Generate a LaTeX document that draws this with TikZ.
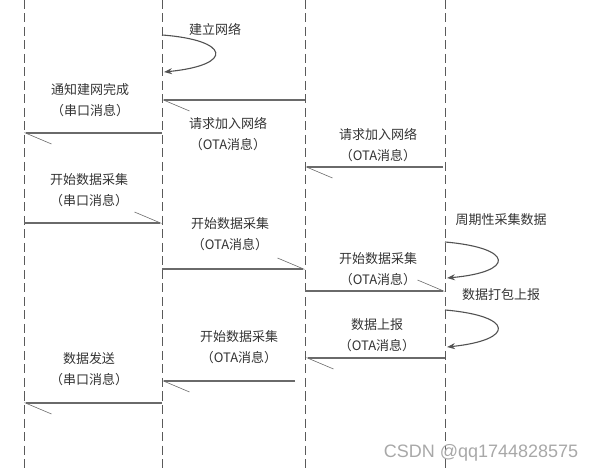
\documentclass[tikz,border=0pt]{standalone}
\usepackage{fontspec}
\newfontfamily\cjk{Noto Sans CJK SC}
\setsansfont{Liberation Sans}
\usetikzlibrary{arrows.meta}
\definecolor{lifec}{HTML}{5A5A5A}
\definecolor{msgc}{HTML}{6A6A6A}
\definecolor{txtc}{HTML}{333333}
\definecolor{wmc}{HTML}{A8A8A8}
\tikzset{
  lifeline/.style={draw=lifec, line width=0.9pt, dash pattern=on 9pt off 4.5pt},
  msg/.style={draw=msgc, line width=1.1pt, -{Straight Barb[left,length=26pt,width=22pt,line width=0.6pt]}},
  selfloop/.style={draw=txtc!85!white, line width=1.1pt, -{Stealth[length=8pt,width=6pt]}},
  lbl/.style={text=txtc, font=\cjk\fontsize{13}{21}\selectfont, align=center, inner sep=0pt},
  wm/.style={text=wmc, font=\sffamily\fontsize{18}{20}\selectfont, inner sep=0pt}
}
\begin{document}
\begin{tikzpicture}[x=1pt,y=-1pt]
\useasboundingbox (0,0) rectangle (592,470);
% lifelines
\coordinate (A0) at (24,0);  \coordinate (A1) at (24,470);
\coordinate (B0) at (162,0); \coordinate (B1) at (162,470);
\coordinate (C0) at (305,0); \coordinate (C1) at (305,470);
\coordinate (D0) at (445,0); \coordinate (D1) at (445,470);
\draw[lifeline] (A0) -- (A1);
\draw[lifeline] (B0) -- (B1);
\draw[lifeline] (C0) -- (C1);
\draw[lifeline] (D0) -- (D1);

% message end points
\coordinate (m1s) at (305,100); \coordinate (m1t) at (162,100);
\coordinate (m2s) at (162,133); \coordinate (m2t) at (24,133);
\coordinate (m3s) at (443,167); \coordinate (m3t) at (305,167);
\coordinate (m4s) at (24,223);  \coordinate (m4t) at (162,223);
\coordinate (m5s) at (162,269); \coordinate (m5t) at (305,269);
\coordinate (m6s) at (305,291); \coordinate (m6t) at (445,291);
\coordinate (m7s) at (445,358); \coordinate (m7t) at (306,358);
\coordinate (m8s) at (295,381); \coordinate (m8t) at (162,381);
\coordinate (m9s) at (162,403); \coordinate (m9t) at (24,403);

\draw[msg] (m1s) -- (m1t);
\draw[msg] (m2s) -- (m2t);
\draw[msg] (m3s) -- (m3t);
\draw[msg] (m4s) -- (m4t);
\draw[msg] (m5s) -- (m5t);
\draw[msg] (m6s) -- (m6t);
\draw[msg] (m7s) -- (m7t);
\draw[msg] (m8s) -- (m8t);
\draw[msg] (m9s) -- (m9t);

% self loops
\coordinate (s1a) at (162,35);  \coordinate (s1b) at (164,72);
\coordinate (s2a) at (445,242); \coordinate (s2b) at (447,278);
\coordinate (s3a) at (445,310); \coordinate (s3b) at (447,347);
\draw[selfloop] (s1a) .. controls (230,40) and (235,65) .. (s1b);
\draw[selfloop] (s2a) .. controls (515,248) and (515,272) .. (s2b);
\draw[selfloop] (s3a) .. controls (515,316) and (515,340) .. (s3b);

% labels
\node[lbl] (t0) at (215,29) {建立网络};
\node[lbl] (t1) at (90,100) {通知建网完成\\（串口消息）};
\node[lbl] (t2) at (228,134) {请求加入网络\\（OTA消息）};
\node[lbl] (t3) at (378,145) {请求加入网络\\（OTA消息）};
\node[lbl] (t4) at (89,190) {开始数据采集\\（串口消息）};
\node[lbl] (t5) at (230,234) {开始数据采集\\（OTA消息）};
\node[lbl] (t6) at (378,269) {开始数据采集\\（OTA消息）};
\node[lbl] (t7) at (377,335) {数据上报\\（OTA消息）};
\node[lbl] (t8) at (239,347) {开始数据采集\\（OTA消息）};
\node[lbl] (t9) at (89,369) {数据发送\\（串口消息）};
\node[lbl] (t10) at (501,220) {周期性采集数据};
\node[lbl] (t11) at (501,295) {数据打包上报};
\node[wm] (wm) at (481,453) {CSDN @qq1744828575};
\end{tikzpicture}
\end{document}
